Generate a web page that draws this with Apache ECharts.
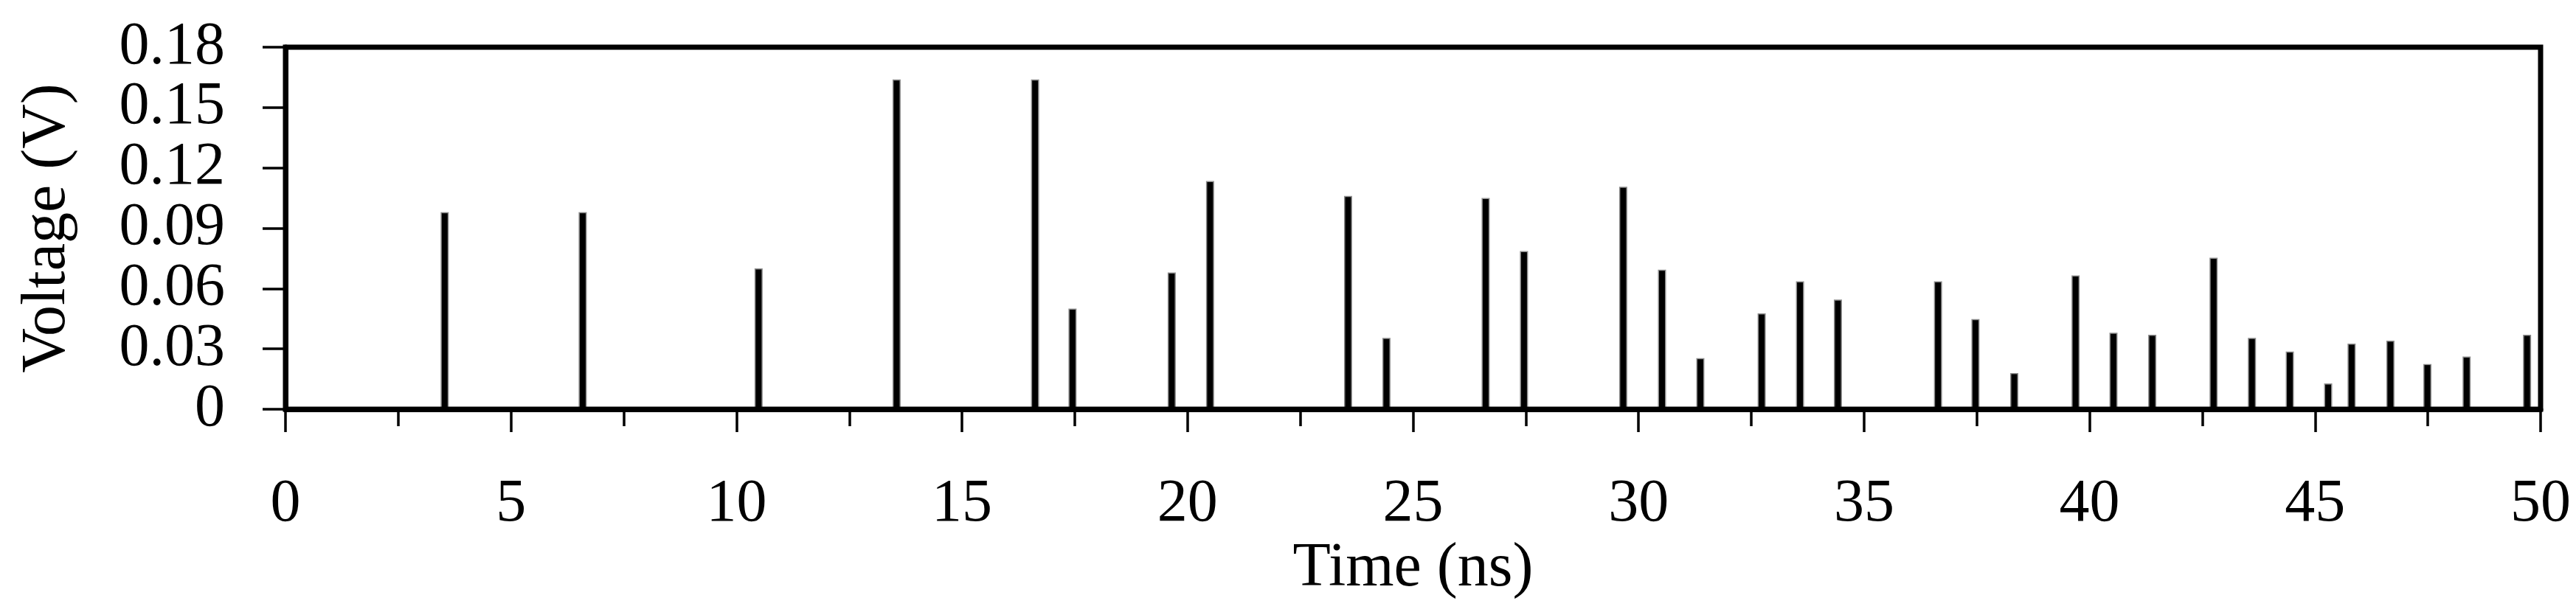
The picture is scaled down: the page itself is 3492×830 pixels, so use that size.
<!DOCTYPE html>
<html>
<head>
<meta charset="utf-8">
<script src="https://cdn.jsdelivr.net/npm/echarts@6/dist/echarts.min.js"></script>
<style>
  html, body { margin: 0; padding: 0; background: #fff; }
  #chart { width: 3492px; height: 830px; }
</style>
</head>
<body>
<div id="chart"></div>
<script>
// pulse arrival times (ns) and peak voltages (V)
const pulseTimes = [
  3.53, 6.59, 10.49, 13.55, 16.62, 17.45, 19.65, 20.50, 23.56, 24.41,
  26.61, 27.46, 29.66, 30.52, 31.37, 32.73, 33.58, 34.42, 36.64, 37.47,
  38.33, 39.69, 40.53, 41.39, 42.75, 43.60, 44.44, 45.29, 45.81, 46.67,
  47.49, 48.36, 49.70
]
const pulseVolts = [
  0.098, 0.098, 0.070, 0.164, 0.164, 0.050, 0.068, 0.1135, 0.106, 0.0355,
  0.105, 0.0786, 0.1106, 0.0694, 0.0254, 0.0477, 0.0636, 0.0545, 0.0636, 0.0448,
  0.018, 0.0665, 0.038, 0.037, 0.0753, 0.0355, 0.0287, 0.0128, 0.0326, 0.0341,
  0.0225, 0.0262, 0.037
]
const xTicks = [0, 50, 5]      // min, max, interval
const yTicks = [0, 0.18, 0.03]

const font = 'Liberation Serif'
const chart = echarts.init(document.getElementById('chart'))
chart.setOption({
  animation: false,
  grid: {
    left: 387,
    right: 48,
    top: 64,
    bottom: 275,
    show: true,
    borderColor: '#000',
    borderWidth: 7
  },
  xAxis: {
    type: 'value',
    min: xTicks[0],
    max: xTicks[1],
    interval: xTicks[2],
    name: 'Time (ns)',
    nameLocation: 'middle',
    nameGap: 160,
    nameTextStyle: { fontFamily: font, fontSize: 84, color: '#000' },
    axisLine: { show: true, lineStyle: { color: '#000', width: 7 } },
    axisTick: { show: true, length: 31, lineStyle: { color: '#000', width: 3.5 } },
    minorTick: { show: true, splitNumber: 2, length: 23, lineStyle: { color: '#000', width: 3.5 } },
    axisLabel: {
      fontFamily: font, fontSize: 82, color: '#000', margin: 88,
      showMinLabel: true, showMaxLabel: true
    },
    splitLine: { show: false }
  },
  yAxis: {
    type: 'value',
    min: yTicks[0],
    max: yTicks[1],
    interval: yTicks[2],
    name: 'Voltage (V)',
    nameLocation: 'middle',
    nameGap: 280,
    nameTextStyle: { fontFamily: font, fontSize: 84, color: '#000' },
    axisLine: { show: true, lineStyle: { color: '#000', width: 7 } },
    axisTick: { show: true, length: 31, lineStyle: { color: '#000', width: 3.5 } },
    axisLabel: {
      fontFamily: font, fontSize: 82, color: '#000', margin: 82,
      showMinLabel: true, showMaxLabel: true,
      formatter: v => v === 0 ? '0' : v.toFixed(2)
    },
    splitLine: { show: false }
  },
  series: [{
    type: 'bar',
    barWidth: 11,
    data: pulseTimes.map((t, i) => [t, pulseVolts[i]]),
    itemStyle: { color: '#000', borderColor: 'rgba(0,0,0,0.45)', borderWidth: 3 },
    silent: true
  }]
})
</script>
</body>
</html>
